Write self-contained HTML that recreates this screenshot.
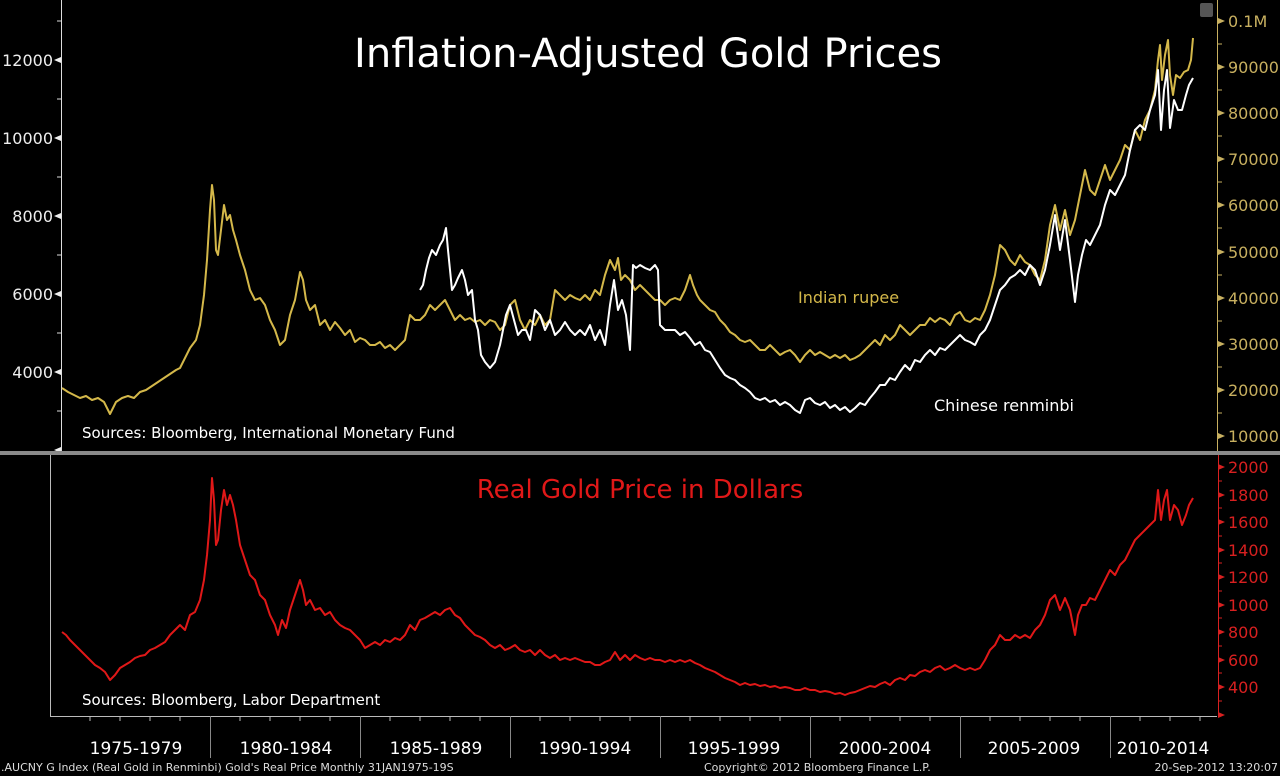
<!DOCTYPE html>
<html><head><meta charset="utf-8"><style>
html,body{margin:0;padding:0;background:#000;}
svg{display:block;}
text{font-family:"DejaVu Sans","Liberation Sans",sans-serif;}
</style></head><body>
<svg width="1280" height="776" viewBox="0 0 1280 776" xmlns="http://www.w3.org/2000/svg">
<rect width="1280" height="776" fill="#000"/>
<!-- top panel axes -->
<line x1="61.5" y1="0" x2="61.5" y2="452" stroke="#ddd" stroke-width="1"/>
<line x1="1217.5" y1="0" x2="1217.5" y2="452" stroke="#c8b060" stroke-width="1"/>
<g fill="#eee" font-size="16" text-anchor="end">
<text x="53" y="66">12000</text><text x="53" y="144">10000</text><text x="53" y="222">8000</text><text x="53" y="300">6000</text><text x="53" y="378">4000</text>
</g>
<g fill="#eee">
<polygon points="54,60 61,57 61,63"/><polygon points="54,138 61,135 61,141"/><polygon points="54,216 61,213 61,219"/><polygon points="54,294 61,291 61,297"/><polygon points="54,372 61,369 61,375"/><polygon points="54,450 61,447 61,453"/>
</g>
<g stroke="#ddd"><line x1="57" y1="21" x2="61" y2="21"/><line x1="57" y1="99" x2="61" y2="99"/><line x1="57" y1="177" x2="61" y2="177"/><line x1="57" y1="255" x2="61" y2="255"/><line x1="57" y1="333" x2="61" y2="333"/><line x1="57" y1="411" x2="61" y2="411"/></g>
<g fill="#c8b060" font-size="16">
<text x="1228" y="27">0.1M</text><text x="1228" y="73">90000</text><text x="1228" y="119">80000</text><text x="1228" y="165">70000</text><text x="1228" y="211">60000</text><text x="1228" y="258">50000</text><text x="1228" y="304">40000</text><text x="1228" y="350">30000</text><text x="1228" y="396">20000</text><text x="1228" y="442">10000</text>
</g>
<g fill="#c8b060">
<polygon points="1225,21 1218,18 1218,24"/><polygon points="1225,67 1218,64 1218,70"/><polygon points="1225,113 1218,110 1218,116"/><polygon points="1225,159 1218,156 1218,162"/><polygon points="1225,205 1218,202 1218,208"/><polygon points="1225,252 1218,249 1218,255"/><polygon points="1225,298 1218,295 1218,301"/><polygon points="1225,344 1218,341 1218,347"/><polygon points="1225,390 1218,387 1218,393"/><polygon points="1225,436 1218,433 1218,439"/>
</g>
<g stroke="#c8b060"><line x1="1218" y1="44" x2="1222" y2="44"/><line x1="1218" y1="90" x2="1222" y2="90"/><line x1="1218" y1="136" x2="1222" y2="136"/><line x1="1218" y1="182" x2="1222" y2="182"/><line x1="1218" y1="228" x2="1222" y2="228"/><line x1="1218" y1="275" x2="1222" y2="275"/><line x1="1218" y1="321" x2="1222" y2="321"/><line x1="1218" y1="367" x2="1222" y2="367"/><line x1="1218" y1="413" x2="1222" y2="413"/></g>
<rect x="1200" y="3" width="13" height="14" rx="2" fill="#555"/>
<text x="648" y="67" fill="#fff" font-size="40" text-anchor="middle">Inflation-Adjusted Gold Prices</text>
<text x="798" y="303" fill="#d4b84a" font-size="16">Indian rupee</text>
<text x="934" y="411" fill="#fff" font-size="16">Chinese renminbi</text>
<text x="82" y="438" fill="#fff" font-size="15">Sources: Bloomberg, International Monetary Fund</text>
<polyline fill="none" stroke="#d4b84a" stroke-width="2" stroke-linejoin="round" points="62,388 68,392 74,395 80,398 86,396 92,400 98,398 104,402 110,414 116,402 122,398 128,396 134,398 140,392 146,390 152,386 158,382 164,378 170,374 176,370 180,368 186,356 190,348 196,340 200,325 204,295 207,260 210,210 212,185 214,200 216,250 218,255 221,230 224,205 227,220 230,215 233,230 236,240 240,255 245,270 250,290 255,300 260,298 265,305 270,320 275,330 280,345 285,340 290,315 295,300 300,272 303,280 306,300 310,310 315,305 320,325 325,320 330,330 335,322 340,328 345,335 350,330 355,342 360,338 365,340 370,345 375,345 380,342 385,348 390,345 395,350 400,345 405,340 410,315 415,320 420,320 425,315 430,305 435,310 440,305 445,300 450,310 455,320 460,315 465,320 470,318 475,322 480,320 485,325 490,320 495,322 500,330 505,325 510,305 515,300 520,320 525,330 530,320 535,325 540,315 545,325 550,320 555,290 560,295 565,300 570,295 575,298 580,300 585,295 590,300 595,290 600,295 605,275 610,260 615,270 618,258 621,280 625,275 630,280 635,290 640,285 645,290 650,295 655,300 660,300 665,305 670,300 675,298 680,300 685,290 690,275 693,285 697,295 700,300 705,305 710,310 715,312 720,320 725,325 730,332 735,335 740,340 745,342 750,340 755,345 760,350 765,350 770,345 775,350 780,355 785,352 790,350 795,355 800,362 805,355 810,350 815,355 820,352 825,355 830,358 835,355 840,358 845,355 850,360 855,358 860,355 865,350 870,345 875,340 880,345 885,335 890,340 895,335 900,325 905,330 910,335 915,330 920,325 925,325 930,318 935,322 940,318 945,320 950,325 955,315 960,312 965,320 970,322 975,318 980,320 985,310 990,295 995,275 1000,245 1005,250 1010,260 1015,265 1020,255 1025,262 1030,265 1035,275 1040,280 1045,260 1050,225 1055,205 1060,230 1065,210 1070,235 1075,220 1080,195 1085,170 1090,190 1095,195 1100,180 1105,165 1110,180 1115,170 1120,160 1125,145 1130,150 1135,130 1140,140 1145,120 1150,110 1155,90 1158,60 1160,45 1162,80 1165,55 1168,40 1170,75 1173,95 1176,75 1180,78 1184,72 1188,70 1191,60 1193,38"/>
<polyline fill="none" stroke="#fff" stroke-width="2" stroke-linejoin="round" points="420,290 423,285 426,270 429,258 432,250 436,255 440,245 443,240 446,228 448,250 450,270 452,290 455,285 458,278 462,270 465,280 468,295 472,290 475,320 478,330 481,355 485,362 490,368 495,362 500,345 503,330 506,315 510,305 514,320 518,335 522,330 526,330 530,340 535,310 540,315 545,330 550,320 555,335 560,330 565,322 570,330 575,335 580,330 585,335 590,325 595,340 600,330 605,345 610,305 614,280 618,310 622,300 626,315 630,350 633,265 636,268 640,265 645,268 650,270 655,265 658,270 660,325 665,330 670,330 675,330 680,335 685,332 690,338 695,345 700,342 705,350 710,352 715,360 720,368 725,375 730,378 735,380 740,385 745,388 750,392 755,398 760,400 765,398 770,402 775,400 780,405 785,402 790,405 795,410 800,413 805,400 810,398 815,403 820,405 825,402 830,408 835,405 840,410 845,407 850,412 855,408 860,403 865,405 870,398 875,392 880,385 885,385 890,378 895,380 900,372 905,365 910,370 915,360 920,362 925,355 930,350 935,355 940,348 945,350 950,345 955,340 960,335 965,340 970,342 975,345 980,335 985,330 990,320 995,305 1000,290 1005,285 1010,278 1015,275 1020,270 1025,275 1030,265 1035,270 1040,285 1045,270 1050,245 1055,215 1060,250 1065,220 1070,260 1075,302 1078,275 1082,255 1086,240 1090,245 1095,235 1100,225 1105,205 1110,190 1115,195 1120,185 1125,175 1130,150 1135,130 1140,125 1145,130 1150,110 1155,95 1158,70 1161,130 1164,90 1167,70 1170,128 1174,100 1178,110 1182,110 1186,95 1189,85 1193,78"/>
<!-- separator -->
<rect x="0" y="451" width="1280" height="4" fill="#8a8a8a"/>
<!-- bottom panel -->
<line x1="50.5" y1="455" x2="50.5" y2="716" stroke="#bbb"/>
<line x1="50" y1="716.5" x2="1217" y2="716.5" stroke="#bbb"/>
<line x1="1218.5" y1="455" x2="1218.5" y2="716" stroke="#d82020"/>
<g fill="#d82020" font-size="16">
<text x="1228" y="473">2000</text><text x="1228" y="501">1800</text><text x="1228" y="528">1600</text><text x="1228" y="556">1400</text><text x="1228" y="583">1200</text><text x="1228" y="611">1000</text><text x="1228" y="638">800</text><text x="1228" y="666">600</text><text x="1228" y="693">400</text>
</g>
<g fill="#d82020">
<polygon points="1225,467 1218,464 1218,470"/><polygon points="1225,495 1218,492 1218,498"/><polygon points="1225,522 1218,519 1218,525"/><polygon points="1225,550 1218,547 1218,553"/><polygon points="1225,577 1218,574 1218,580"/><polygon points="1225,605 1218,602 1218,608"/><polygon points="1225,632 1218,629 1218,635"/><polygon points="1225,660 1218,657 1218,663"/><polygon points="1225,687 1218,684 1218,690"/><polygon points="1225,715 1218,712 1218,718"/>
</g>
<g stroke="#d82020"><line x1="1218" y1="481" x2="1222" y2="481"/><line x1="1218" y1="508" x2="1222" y2="508"/><line x1="1218" y1="536" x2="1222" y2="536"/><line x1="1218" y1="563" x2="1222" y2="563"/><line x1="1218" y1="591" x2="1222" y2="591"/><line x1="1218" y1="618" x2="1222" y2="618"/><line x1="1218" y1="646" x2="1222" y2="646"/><line x1="1218" y1="673" x2="1222" y2="673"/><line x1="1218" y1="701" x2="1222" y2="701"/></g>
<text x="640" y="498" fill="#e01818" font-size="26" text-anchor="middle">Real Gold Price in Dollars</text>
<text x="82" y="705" fill="#fff" font-size="15">Sources: Bloomberg, Labor Department</text>
<polyline fill="none" stroke="#e01818" stroke-width="2" stroke-linejoin="round" points="62,632 66,635 70,640 75,645 80,650 85,655 90,660 95,665 100,668 105,672 110,680 115,675 120,668 125,665 130,662 135,658 140,656 145,655 150,650 155,648 160,645 165,642 170,635 175,630 180,625 185,630 190,615 195,612 200,600 204,580 207,555 210,520 212,478 214,500 216,545 218,540 221,510 224,490 227,505 230,495 233,505 236,520 240,545 245,560 250,575 255,580 260,595 265,600 270,615 275,625 278,635 282,620 286,628 290,610 295,595 300,580 303,590 306,605 310,600 315,610 320,608 325,615 330,612 335,620 340,625 345,628 350,630 355,635 360,640 365,648 370,645 375,642 380,645 385,640 390,642 395,638 400,640 405,635 410,625 415,630 420,620 425,618 430,615 435,612 440,615 445,610 450,608 455,615 460,618 465,625 470,630 475,635 480,637 485,640 490,645 495,648 500,645 505,650 510,648 515,645 520,650 525,652 530,650 535,655 540,650 545,655 550,658 555,655 560,660 565,658 570,660 575,658 580,660 585,662 590,662 595,665 600,665 605,662 610,660 615,652 620,660 625,655 630,660 635,655 640,658 645,660 650,658 655,660 660,660 665,662 670,660 675,662 680,660 685,662 690,660 695,663 700,665 705,668 710,670 715,672 720,675 725,678 730,680 735,682 740,685 745,683 750,685 755,684 760,686 765,685 770,687 775,686 780,688 785,687 790,688 795,690 800,690 805,688 810,690 815,690 820,692 825,691 830,692 835,694 840,693 845,695 850,693 855,692 860,690 865,688 870,686 875,687 880,684 885,682 890,685 895,680 900,678 905,680 910,675 915,676 920,672 925,670 930,672 935,668 940,666 945,670 950,668 955,665 960,668 965,670 970,668 975,670 980,668 985,660 990,650 995,645 1000,635 1005,640 1010,640 1015,635 1020,638 1025,635 1030,638 1035,630 1040,625 1045,615 1050,600 1055,595 1060,610 1065,598 1070,610 1075,635 1078,615 1082,605 1086,605 1090,598 1095,600 1100,590 1105,580 1110,570 1115,575 1120,565 1125,560 1130,550 1135,540 1140,535 1145,530 1150,525 1155,520 1158,490 1161,520 1164,500 1167,490 1170,520 1174,505 1178,510 1182,525 1186,515 1189,505 1193,498"/>
<!-- x axis ticks -->
<g stroke="#bbb">
<line x1="90" y1="716" x2="90" y2="721"/><line x1="120" y1="716" x2="120" y2="721"/><line x1="150" y1="716" x2="150" y2="721"/><line x1="180" y1="716" x2="180" y2="721"/>
<line x1="240" y1="716" x2="240" y2="721"/><line x1="270" y1="716" x2="270" y2="721"/><line x1="300" y1="716" x2="300" y2="721"/><line x1="330" y1="716" x2="330" y2="721"/>
<line x1="390" y1="716" x2="390" y2="721"/><line x1="420" y1="716" x2="420" y2="721"/><line x1="450" y1="716" x2="450" y2="721"/><line x1="480" y1="716" x2="480" y2="721"/>
<line x1="540" y1="716" x2="540" y2="721"/><line x1="570" y1="716" x2="570" y2="721"/><line x1="600" y1="716" x2="600" y2="721"/><line x1="630" y1="716" x2="630" y2="721"/>
<line x1="690" y1="716" x2="690" y2="721"/><line x1="720" y1="716" x2="720" y2="721"/><line x1="750" y1="716" x2="750" y2="721"/><line x1="780" y1="716" x2="780" y2="721"/>
<line x1="840" y1="716" x2="840" y2="721"/><line x1="870" y1="716" x2="870" y2="721"/><line x1="900" y1="716" x2="900" y2="721"/><line x1="930" y1="716" x2="930" y2="721"/>
<line x1="990" y1="716" x2="990" y2="721"/><line x1="1020" y1="716" x2="1020" y2="721"/><line x1="1050" y1="716" x2="1050" y2="721"/><line x1="1080" y1="716" x2="1080" y2="721"/>
<line x1="1140" y1="716" x2="1140" y2="721"/><line x1="1170" y1="716" x2="1170" y2="721"/><line x1="1200" y1="716" x2="1200" y2="721"/>
</g>
<g stroke="#888">
<line x1="210.5" y1="716" x2="210.5" y2="758"/><line x1="360.5" y1="716" x2="360.5" y2="758"/><line x1="510.5" y1="716" x2="510.5" y2="758"/><line x1="660.5" y1="716" x2="660.5" y2="758"/><line x1="810.5" y1="716" x2="810.5" y2="758"/><line x1="960.5" y1="716" x2="960.5" y2="758"/><line x1="1110.5" y1="716" x2="1110.5" y2="758"/>
</g>
<g fill="#fff" font-size="17" text-anchor="middle">
<text x="136" y="754">1975-1979</text><text x="286" y="754">1980-1984</text><text x="436" y="754">1985-1989</text><text x="585" y="754">1990-1994</text><text x="734" y="754">1995-1999</text><text x="885" y="754">2000-2004</text><text x="1034" y="754">2005-2009</text><text x="1163" y="754">2010-2014</text>
</g>
<g fill="#ddd" font-size="11">
<text x="1" y="771">.AUCNY G Index (Real Gold in Renminbi) Gold's Real Price  Monthly 31JAN1975-19S</text>
<text x="704" y="771">Copyright© 2012 Bloomberg Finance L.P.</text>
<text x="1278" y="771" text-anchor="end">20-Sep-2012 13:20:07</text>
</g>
</svg>
</body></html>
